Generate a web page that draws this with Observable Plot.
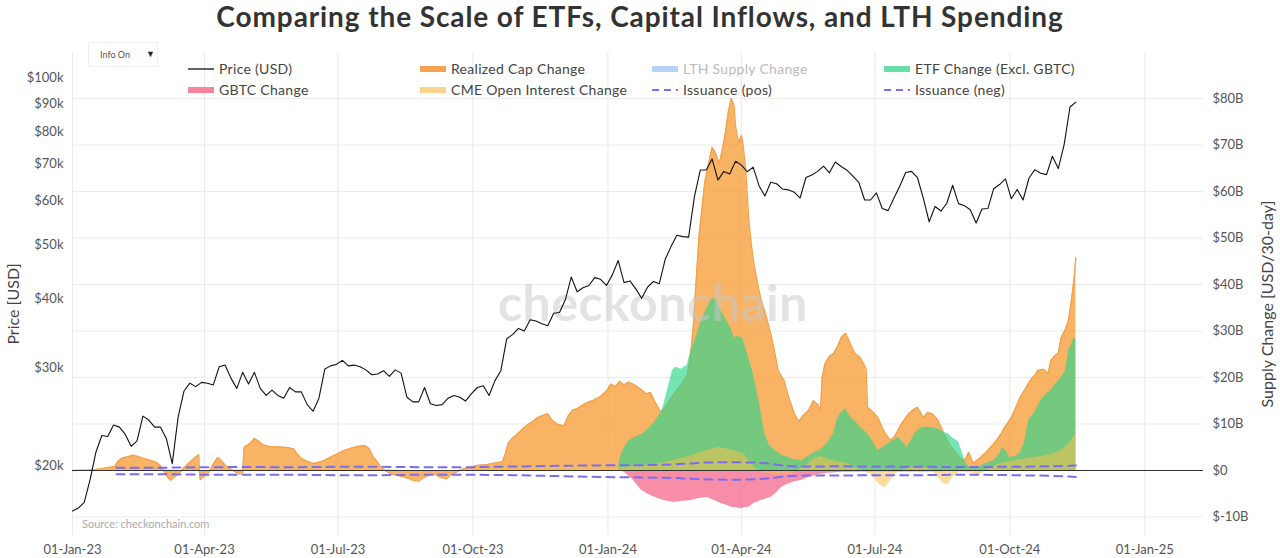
<!DOCTYPE html>
<html><head><meta charset="utf-8">
<script src="https://cdn.jsdelivr.net/npm/d3@7"></script>
<script src="https://cdn.jsdelivr.net/npm/@observablehq/plot@0.6"></script>
<style>
html,body{margin:0;padding:0;background:#fff;}
#wrap{position:relative;width:1280px;height:558px;overflow:hidden;font-family:Lato,"Open Sans",sans-serif;color:#444;}
#title{position:absolute;left:0;top:2px;width:1280px;text-align:center;font-size:28px;font-weight:700;color:#333;line-height:28px;letter-spacing:0.9px;}
.layer{position:absolute;left:0;top:34px;}
#info{position:absolute;left:88px;top:42px;width:70px;height:25px;border:1px solid #f0f0f0;box-sizing:border-box;font-size:9px;color:#555;}
#info span.t{position:absolute;left:11px;top:6px;}
#info span.a{position:absolute;left:57px;top:5px;color:#223;font-size:9px;}
#legend{position:absolute;left:188px;top:58px;display:grid;grid-template-columns:repeat(4,232px);grid-auto-rows:21px;font-size:14px;color:#444;letter-spacing:0.3px;}
.li{display:flex;align-items:center;white-space:nowrap;}
.sw{width:26px;margin-right:5px;flex:none;}
.muted{color:#bbb;}
#wm{position:absolute;left:0;top:272px;width:1306px;text-align:center;font-size:50px;font-weight:700;color:rgba(200,200,200,0.5);letter-spacing:0.5px;}
.axlab{position:absolute;font-size:16px;color:#444;white-space:nowrap;transform:translate(-50%,-50%) rotate(-90deg);}
#src{position:absolute;left:82px;top:517px;font-size:11px;color:#aaa;}
</style></head>
<body>
<div id="wrap">
  <div id="title">Comparing the Scale of ETFs, Capital Inflows, and LTH Spending</div>
  <div id="supply" class="layer"></div>
  <div id="wm">checkonchain</div>
  <div id="price" class="layer"></div>
  <div id="info"><span class="t">Info On</span><span class="a">▼</span></div>
  <div id="legend"></div>
  <div class="axlab" style="left:12px;top:304px;">Price [USD]</div>
  <div class="axlab" style="left:1266px;top:304px;">Supply Change [USD/30-day]</div>
  <div id="src">Source: checkonchain.com</div>
</div>
<script>
// ---------- DATA ----------
const startDate = "2023-01-01";           // day offsets below count from this date
const priceStepDays = 4;                   // price sampled every 4 days from startDate
const priceK = [16.6,16.8,17.2,18.9,21.2,22.7,22.6,23.7,23.5,22.8,21.7,22.2,24.6,24.2,23.5,23.5,22.4,20.2,24.5,27.3,28.2,27.8,28.3,28.2,28.0,30.2,30.4,28.8,27.6,29.5,28.1,29.5,27.6,26.8,27.4,26.8,26.5,27.7,27.2,27.2,25.8,25.1,26.5,29.9,30.3,30.5,31.0,30.3,30.4,30.2,29.8,29.2,29.3,29.7,29.0,29.8,29.4,26.6,26.1,26.1,27.7,25.9,25.7,25.8,26.5,26.8,26.6,26.2,27.0,27.7,27.9,26.8,28.5,29.7,33.9,34.5,35.4,35.0,36.7,36.5,36.1,35.8,37.7,37.8,39.9,43.8,41.2,41.9,42.3,43.7,43.4,42.3,44.2,46.9,42.8,43.1,41.7,40.1,42.0,43.0,42.6,47.1,49.7,52.1,51.8,51.7,61.2,68.3,68.3,71.5,65.5,67.9,67.2,70.8,69.7,67.8,69.1,64.0,61.3,64.9,64.5,63.1,62.9,62.3,60.8,66.2,66.9,67.9,69.4,67.5,70.6,69.3,68.2,66.6,64.9,60.3,60.3,62.1,58.2,57.7,60.8,63.9,67.6,67.9,66.2,60.7,55.1,58.7,57.6,59.5,64.1,59.4,58.9,57.9,54.8,58.1,58.2,63.2,64.3,65.8,60.6,63.0,60.3,66.0,68.4,67.4,67.0,72.3,68.7,75.9,88.7,90.5];

const rcDays = [0,12,20,29,31,34,38,41,44,47,52,57,60,62,65,67,70,73,76,80,84,86,87,90,93,96,99,101,104,107,111,114,116,117,121,124,127,130,134,138,143,147,151,153,156,160,164,168,172,176,180,185,190,195,199,202,205,208,210,213,217,222,227,232,236,240,244,248,251,255,258,262,265,270,276,283,290,293,295,297,300,304,307,311,314,317,321,324,327,331,335,338,341,344,348,351,355,360,364,367,370,373,376,379,382,385,388,391,394,397,401,405,410,415,419,421,423,425,427,429,431,434,436,438,441,443,445,447,449,451,452,454,456,457,459,461,463,465,469,473,476,479,481,485,488,492,495,498,502,505,508,510,511,513,516,519,522,524,527,530,533,537,540,541,542,546,549,553,556,558,561,565,570,573,576,580,583,586,590,594,598,601,605,608,611,614,617,619,623,626,630,633,636,640,643,646,650,653,656,658,662,665,667,670,672,674,677,679,681,683,684];
const rcValues = [0,0.1,0.4,0.9,2.0,2.7,3.0,3.3,3.1,2.7,2.3,1.8,1.0,0.0,-1.5,-2.1,-1.3,-0.5,0.6,1.8,2.9,3.4,-2.0,-1.2,-0.4,1.4,2.8,2.3,1.2,0.5,-0.3,-0.8,-0.4,5.0,5.8,6.9,6.3,5.5,5.2,5.1,5.0,4.9,4.6,3.6,2.6,2.0,1.5,1.8,2.2,2.9,3.5,4.3,4.8,5.2,5.4,4.8,2.9,1.8,0.8,0.0,-0.7,-1.1,-1.5,-2.1,-2.3,-1.5,-0.8,-1.0,-1.5,-1.8,-0.9,-0.3,0.2,0.6,1.1,1.3,1.7,1.9,3.5,5.8,7.0,8.0,9.0,10.0,10.6,11.4,11.9,12.2,10.8,9.9,9.6,11.8,13.0,13.3,14.1,14.6,15.1,15.9,17.1,18.6,18.0,19.2,18.4,19.0,18.6,18.0,17.3,16.5,16.8,14.8,12.5,14.0,16.5,18.5,20.5,24.0,30.0,40.0,50.0,56.0,62.0,66.5,69.5,68.5,66.0,69.0,72.5,77.0,80.0,78.5,74.0,70.5,72.0,70.5,64.5,54.0,48.0,43.5,37.2,33.0,29.5,25.0,21.5,19.4,16.0,12.3,10.5,11.8,13.0,15.0,14.2,13.0,20.0,23.0,24.5,25.2,27.0,28.6,29.5,27.5,25.3,24.3,22.5,21.8,13.6,12.5,11.4,8.5,7.1,6.5,7.6,10.0,12.2,13.0,13.6,11.4,12.5,12.2,10.8,7.9,5.5,4.3,2.8,2.1,3.9,1.5,2.3,2.8,4.0,5.0,6.5,7.9,9.5,11.4,13.5,15.7,17.8,19.4,20.5,21.5,21.8,20.8,23.7,24.8,25.2,28.6,30.5,32.3,36.6,42.0,45.8];

const etfDays = [372,373,376,379,384,389,394,398,401,403,405,407,409,411,415,419,421,425,428,432,435,438,441,443,447,449,451,454,457,460,464,468,472,475,479,484,488,492,497,501,505,509,512,516,519,521,524,527,530,533,537,540,542,546,549,553,556,560,563,566,569,572,574,577,580,584,590,594,597,600,604,607,609,612,616,619,623,628,632,634,637,639,643,646,649,652,656,660,663,667,670,674,677,679,681,683,684];
const etfValues = [0,2.5,4.8,6.3,7.2,7.9,9.3,11.0,12.3,14.0,16.5,19.0,21.5,22.2,21.8,22.6,25.0,28.5,31.5,34.5,36.5,37.2,35.2,33.8,31.6,30.5,28.6,28.8,28.4,25.2,20.9,15.0,7.9,5.5,4.3,3.2,2.8,2.3,2.1,2.9,3.7,4.3,5.0,6.5,8.0,10.8,12.4,13.3,11.6,10.8,9.3,8.5,7.9,6.0,4.3,5.0,5.8,6.5,7.1,6.0,5.0,6.5,7.9,8.8,9.3,9.3,9.0,8.2,7.9,7.0,6.2,3.5,1.5,0.6,0.5,0.9,1.5,2.1,3.5,5.0,4.0,2.8,3.0,3.7,6.0,11.0,12.5,15.0,16.2,17.2,18.5,20.0,21.5,25.8,27.0,28.6,28.2];

const gbtcDays = [374,377,382,388,393,399,404,410,416,421,427,433,438,442,447,449,453,456,458,461,465,469,476,480,483,487,492,497,502,508,515,525,540,560,580,600,620,640,660,684];
const gbtcValues = [0,-0.6,-2.0,-4.3,-5.2,-6.0,-6.5,-6.9,-6.6,-6.5,-6.0,-5.8,-6.5,-7.1,-7.6,-7.9,-8.0,-8.2,-8.0,-7.9,-7.0,-6.5,-5.8,-4.8,-3.7,-3.0,-2.5,-2.1,-1.5,-0.9,-0.6,-0.4,-0.3,-0.3,-0.3,-0.2,-0.2,-0.1,-0.1,-0.1];

const cmeDays = [0,30,60,90,120,150,180,210,240,270,300,330,360,372,390,405,420,430,440,446,452,458,462,466,470,480,490,500,505,510,515,520,528,535,545,550,554,558,562,570,580,586,590,594,597,600,605,612,618,625,632,640,650,660,668,675,680,684];
const cmeValues = [0,0.3,0.2,-0.3,0.4,0.2,0.5,0.3,-0.4,0.2,0.8,1.0,0.8,0.6,1.0,1.8,3.0,4.0,5.0,4.6,4.2,3.5,1.8,0.3,-0.5,-1.0,-0.8,1.0,2.5,3.0,2.5,2.0,1.5,0.5,-1.0,-3.0,-3.7,-2.0,-0.5,0.5,0.8,0.0,-1.5,-2.8,-3.0,-1.5,-0.3,-0.5,-1.0,0.5,1.5,2.0,2.5,3.0,3.5,4.5,6.0,8.0];

const issDays = [30,60,90,120,150,180,210,240,270,300,330,360,390,410,430,450,465,475,485,495,520,550,580,610,640,660,680,684];
const issPosValues = [0.6,0.6,0.7,0.75,0.7,0.8,0.8,0.7,0.7,0.85,1.0,1.1,1.15,1.3,1.7,1.8,1.7,1.5,1.0,0.85,0.9,0.85,0.8,0.75,0.8,0.85,1.0,1.1];
const issNegValues = [-0.8,-0.8,-0.9,-0.9,-0.9,-1.0,-1.0,-0.9,-0.9,-1.0,-1.2,-1.4,-1.5,-1.6,-1.9,-2.0,-1.9,-1.7,-1.3,-1.1,-1.1,-1.0,-1.0,-0.9,-1.0,-1.1,-1.3,-1.4];

const xTickDates = ["2023-01-01","2023-04-01","2023-07-01","2023-10-01","2024-01-01","2024-04-01","2024-07-01","2024-10-01","2025-01-01"];
const xDomain = ["2023-01-01","2025-02-10"];
const priceTicksK = [20,30,40,50,60,70,80,90,100];
const supplyTicksB = [-10,0,10,20,30,40,50,60,70,80];

const legendItems = [
  {label:"Price (USD)", kind:"line", color:"#111"},
  {label:"Realized Cap Change", kind:"area", color:"#f5a350"},
  {label:"LTH Supply Change", kind:"area", color:"#b6d3f7", muted:true},
  {label:"ETF Change (Excl. GBTC)", kind:"area", color:"#68dfa6"},
  {label:"GBTC Change", kind:"area", color:"#f7849c"},
  {label:"CME Open Interest Change", kind:"area", color:"#fdd38c"},
  {label:"Issuance (pos)", kind:"dash", color:"#7b6cf0"},
  {label:"Issuance (neg)", kind:"dash", color:"#7b6cf0"}
];

// ---------- BUILD ----------
const t0 = new Date(startDate + "T00:00:00Z");
const dayToDate = d => new Date(t0.getTime() + d * 864e5);
const toRows = (days, vals) => days.map((d, i) => ({date: dayToDate(d), v: vals[i]}));
const priceRows = priceK.map((v, i) => ({date: dayToDate(i * priceStepDays), v}));
const rcRows = toRows(rcDays, rcValues);
const etfRows = toRows(etfDays, etfValues);
const gbtcRows = toRows(gbtcDays, gbtcValues);
const cmeRows = toRows(cmeDays, cmeValues);
const issPosRows = toRows(issDays, issPosValues);
const issNegRows = toRows(issDays, issNegValues);
const xTicks = xTickDates.map(s => new Date(s + "T00:00:00Z"));
const xDom = xDomain.map(s => new Date(s + "T00:00:00Z"));

const W = 1280, H = 524, mL = 72, mR = 77, mT = 18, mB = 23;
const common = {
  width: W, height: H, marginLeft: mL, marginRight: mR, marginTop: mT, marginBottom: mB,
  style: {fontFamily: "Lato, 'Open Sans', sans-serif", fontSize: "13px", color: "#555", background: "transparent", overflow: "visible"}
};

const supply = Plot.plot({
  ...common,
  x: {type: "utc", domain: xDom},
  y: {domain: [-13.98, 89.9]},
  marks: [
    Plot.gridX(xTicks, {stroke: "#e9e9e9", strokeOpacity: 1}),
    Plot.gridY(supplyTicksB, {stroke: "#ececec", strokeOpacity: 1}),
    Plot.areaY(rcRows, {x: "date", y: "v", fill: "#f5962a", fillOpacity: 0.72}),
    Plot.lineY(rcRows, {x: "date", y: "v", stroke: "#f5a04a", strokeWidth: 1.3}),
    Plot.areaY(etfRows, {x: "date", y: "v", fill: "#2fd48c", fillOpacity: 0.66}),
    Plot.areaY(gbtcRows, {x: "date", y: "v", fill: "#f45c80", fillOpacity: 0.7}),
    Plot.areaY(cmeRows, {x: "date", y: "v", fill: "#f7c04e", fillOpacity: 0.55}),
    Plot.ruleY([0], {stroke: "#333", strokeWidth: 1}),
    Plot.lineY(issPosRows, {x: "date", y: "v", stroke: "#7b6cf0", strokeWidth: 2, strokeDasharray: "8,6"}),
    Plot.lineY(issNegRows, {x: "date", y: "v", stroke: "#7b6cf0", strokeWidth: 2, strokeDasharray: "8,6"}),
    Plot.axisX(xTicks, {tickFormat: d3.utcFormat("%d-%b-%y"), tickSize: 0, tickPadding: 9, label: null}),
    Plot.axisY(supplyTicksB, {anchor: "right", tickFormat: d => d === 0 ? "$0" : `$${d}B`, tickSize: 0, tickPadding: 9, label: null})
  ]
});
document.getElementById("supply").appendChild(supply);

const price = Plot.plot({
  ...common,
  x: {type: "utc", domain: xDom, axis: null},
  y: {type: "log", domain: [14.99, 111.2]},
  marks: [
    Plot.lineY(priceRows, {x: "date", y: "v", stroke: "#111", strokeWidth: 1.1}),
    Plot.axisY(priceTicksK, {anchor: "left", tickFormat: d => `$${d}k`, tickSize: 0, tickPadding: 9, label: null})
  ]
});
document.getElementById("price").appendChild(price);

// legend
const lg = document.getElementById("legend");
for (const it of legendItems) {
  const el = document.createElement("div");
  el.className = "li" + (it.muted ? " muted" : "");
  let sw;
  if (it.kind === "line") sw = `<svg class="sw" width="26" height="8"><line x1="0" x2="26" y1="4" y2="4" stroke="${it.color}" stroke-width="1.3"/></svg>`;
  else if (it.kind === "dash") sw = `<svg class="sw" width="26" height="8"><line x1="0" x2="26" y1="4" y2="4" stroke="${it.color}" stroke-width="2" stroke-dasharray="7,5"/></svg>`;
  else sw = `<svg class="sw" width="26" height="8"><rect x="0" y="1" width="26" height="6" fill="${it.color}"/></svg>`;
  el.innerHTML = sw + `<span>${it.label}</span>`;
  lg.appendChild(el);
}
</script>
</body></html>
